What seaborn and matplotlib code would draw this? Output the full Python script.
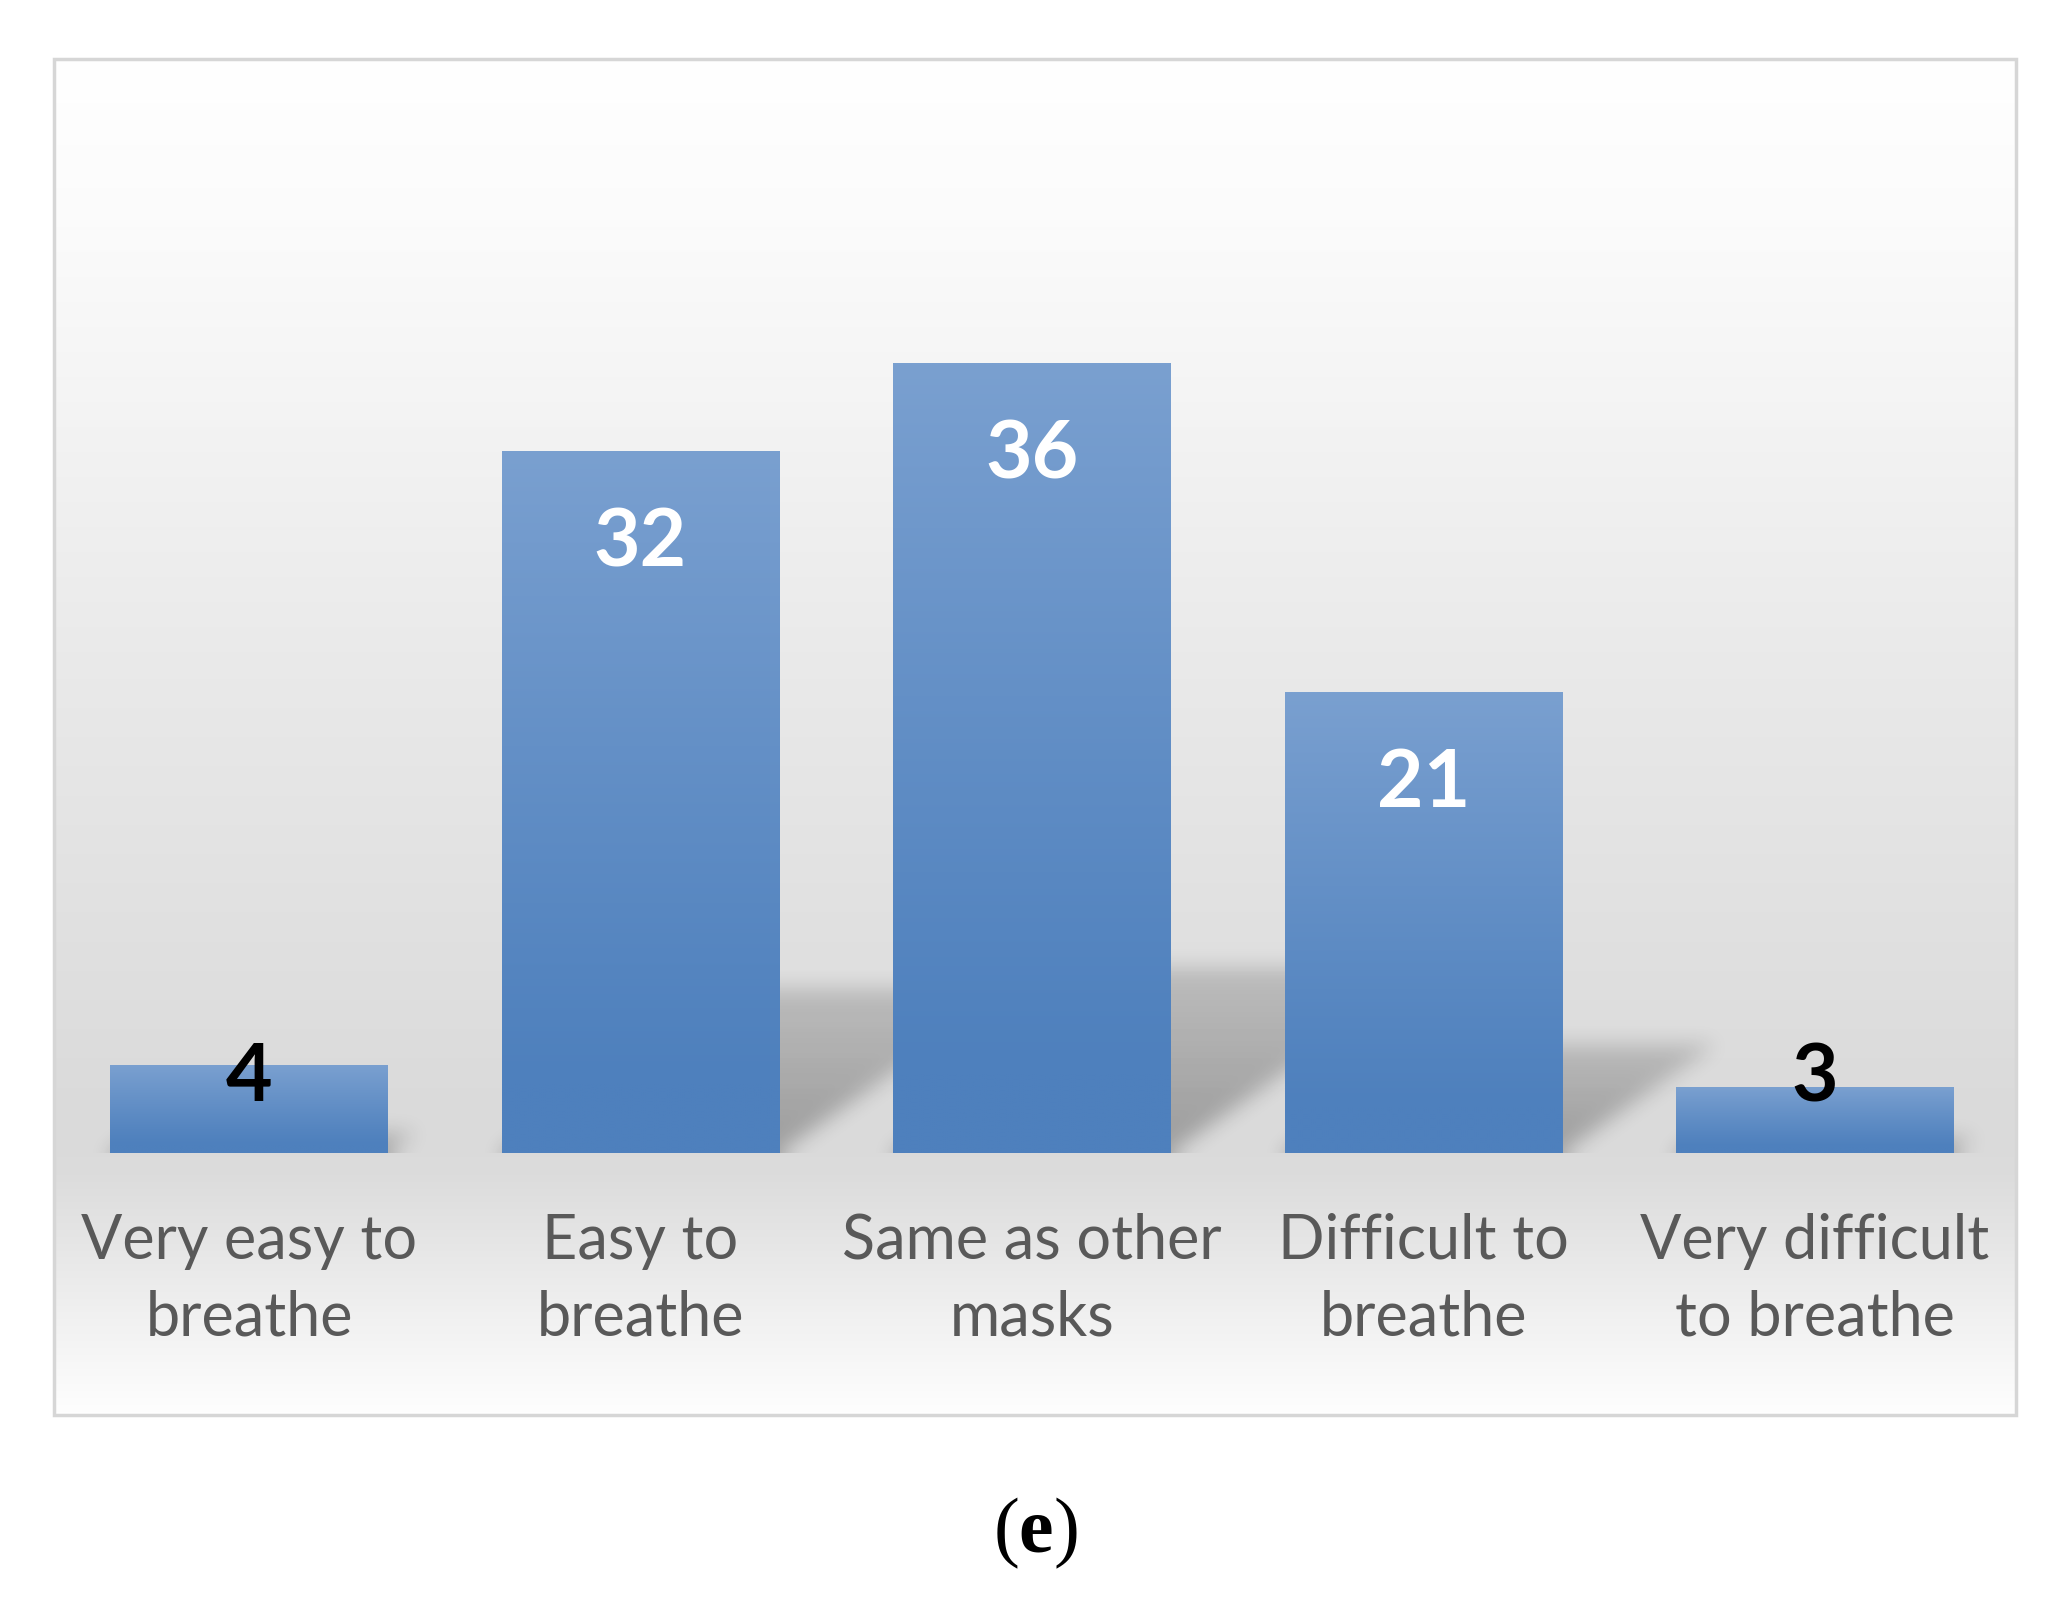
import numpy as np
import pandas as pd
import matplotlib
matplotlib.use("Agg")
import matplotlib.pyplot as plt
import seaborn as sns
from matplotlib.colors import to_rgb
from matplotlib.patches import Rectangle

# ---------------- data ----------------
categories = ["Very easy to\nbreathe", "Easy to\nbreathe", "Same as other\nmasks",
              "Difficult to\nbreathe", "Very difficult\nto breathe"]
values = [4, 32, 36, 21, 3]
panel_label = r"($\mathbf{e}$)"

# ---------------- style ----------------
sns.set_theme(style="white")
plt.rcParams['font.family'] = ['Lato', 'DejaVu Sans']
plt.rcParams['mathtext.fontset'] = 'custom'
plt.rcParams['mathtext.bf'] = 'Liberation Serif:bold'
plt.rcParams['mathtext.rm'] = 'Liberation Serif'

W, H = 2060, 1612
fig = plt.figure(figsize=(W / 100, H / 100), dpi=100)
fig.patch.set_facecolor("white")


def fx(px):
    return px / W


def fy(py):
    return 1 - py / H


# ---------------- background panel ----------------
box_l, box_r, box_t, box_b = 54, 2016, 59, 1415
bg = fig.add_axes([fx(box_l), fy(box_b), (box_r - box_l) / W, (box_b - box_t) / H])
t = np.linspace(0, 1, 600)
g = np.interp(t, [0, 0.12, 0.45, 0.78, 0.82, 0.93, 1.0],
              [1.0, 0.985, 0.915, 0.855, 0.86, 0.945, 0.997])
img = np.dstack([np.repeat(g[:, None], 2, axis=1)] * 3)
bg.imshow(img, aspect='auto', extent=(0, 1, 0, 1), origin='upper', interpolation='bilinear')
bg.set_axis_off()
fig.add_artist(Rectangle((fx(box_l), fy(box_b)), (box_r - box_l) / W, (box_b - box_t) / H,
                         transform=fig.transFigure, fill=False, edgecolor='#d6d6d6',
                         lw=2.5, zorder=10))

# ---------------- bar axes ----------------
base_px = 1153
ax = fig.add_axes([53.25 / W, fy(base_px), 1957.5 / W, (base_px - box_t) / H])
ax.patch.set_alpha(0)

df = pd.DataFrame({"category": categories, "value": values})
sns.barplot(data=df, x="category", y="value", ax=ax, width=0.71,
            color="#4f81bd", saturation=1, edgecolor="none", linewidth=0, zorder=3)
ylim_top = 49.86
ax.set_xlim(-0.5, 4.5)
ax.set_ylim(0, ylim_top)

# gradient fill for each bar
top_c = np.array(to_rgb("#7aa0d0"))
bot_c = np.array(to_rgb("#4e80bd"))
patches = list(ax.patches)
for p in patches:
    x0, w, h = p.get_x(), p.get_width(), p.get_height()
    f = np.linspace(0, 1, 256)  # 0 bottom -> 1 top
    ff = np.clip((f - 0.1) / 0.9, 0, 1) ** 1.1
    cols = bot_c[None, :] * (1 - ff[:, None]) + top_c[None, :] * ff[:, None]
    grad = np.repeat(cols[:, None, :], 2, axis=1)
    im = ax.imshow(grad, extent=(x0, x0 + w, 0, h), origin='lower', aspect='auto',
                   interpolation='bilinear', zorder=3)
    im.set_clip_path(p)
    p.set_facecolor('none')

ax.set_xlim(-0.5, 4.5)
ax.set_ylim(0, ylim_top)

# ---------------- perspective shadows ----------------
fig.canvas.draw()
bb = ax.get_window_extent()
PW, PH = int(round(bb.width)), int(round(bb.height))
xs = np.linspace(-0.5, 4.5, PW)
ys = np.linspace(0, ylim_top, PH)
X, Y = np.meshgrid(xs, ys)
px_x = PW / 5.0
px_y = PH / ylim_top
mask = np.zeros((PH, PW))
for p in patches:
    x0, w, h = p.get_x(), p.get_width(), p.get_height()
    hs = 0.235 * h
    shift = 1.42 * hs * px_y / px_x
    tt = Y / hs
    inside = (Y >= 0) & (Y <= hs) & (X >= x0 + shift * tt) & (X <= x0 + w + shift * tt)
    mask[inside] = np.maximum(mask[inside], (1 - 0.45 * tt[inside]))


def box_blur(a, r, axis):
    c = np.cumsum(np.pad(a, [(r + 1, r) if i == axis else (0, 0) for i in range(2)], mode='edge'),
                  axis=axis)
    n = a.shape[axis]
    hi = np.take(c, np.arange(2 * r + 1, 2 * r + 1 + n), axis=axis)
    lo = np.take(c, np.arange(0, n), axis=axis)
    return (hi - lo) / (2 * r + 1)


for _ in range(3):
    mask = box_blur(mask, 9, 0)
    mask = box_blur(mask, 9, 1)
rgba = np.zeros((PH, PW, 4))
rgba[..., 3] = np.clip(mask, 0, 1) * 0.28
ax.imshow(rgba, extent=(-0.5, 4.5, 0, ylim_top), origin='lower', aspect='auto', zorder=1)
ax.set_xlim(-0.5, 4.5)
ax.set_ylim(0, ylim_top)

# ---------------- value labels ----------------
for p, v in zip(patches, values):
    xc = p.get_x() + p.get_width() / 2
    yv = max(v - 4.2, 3.4)
    ax.text(xc, yv, str(v), ha='center', va='center', fontsize=58, fontweight='bold',
            color='white' if v > 10 else 'black', zorder=5)

# ---------------- axes cosmetics ----------------
sns.despine(ax=ax, left=True, bottom=True)
ax.set_xlabel("")
ax.set_ylabel("")
ax.set_yticks([])
ax.tick_params(axis='x', length=0, pad=43, labelsize=44, labelcolor='#595959')
for lbl in ax.get_xticklabels():
    lbl.set_linespacing(1.42)

fig.text(fx(1035), fy(1533), panel_label, ha='center', va='center', fontsize=56,
         family='Liberation Serif', color='black')

fig.savefig("out.png", dpi=100, facecolor='white')
